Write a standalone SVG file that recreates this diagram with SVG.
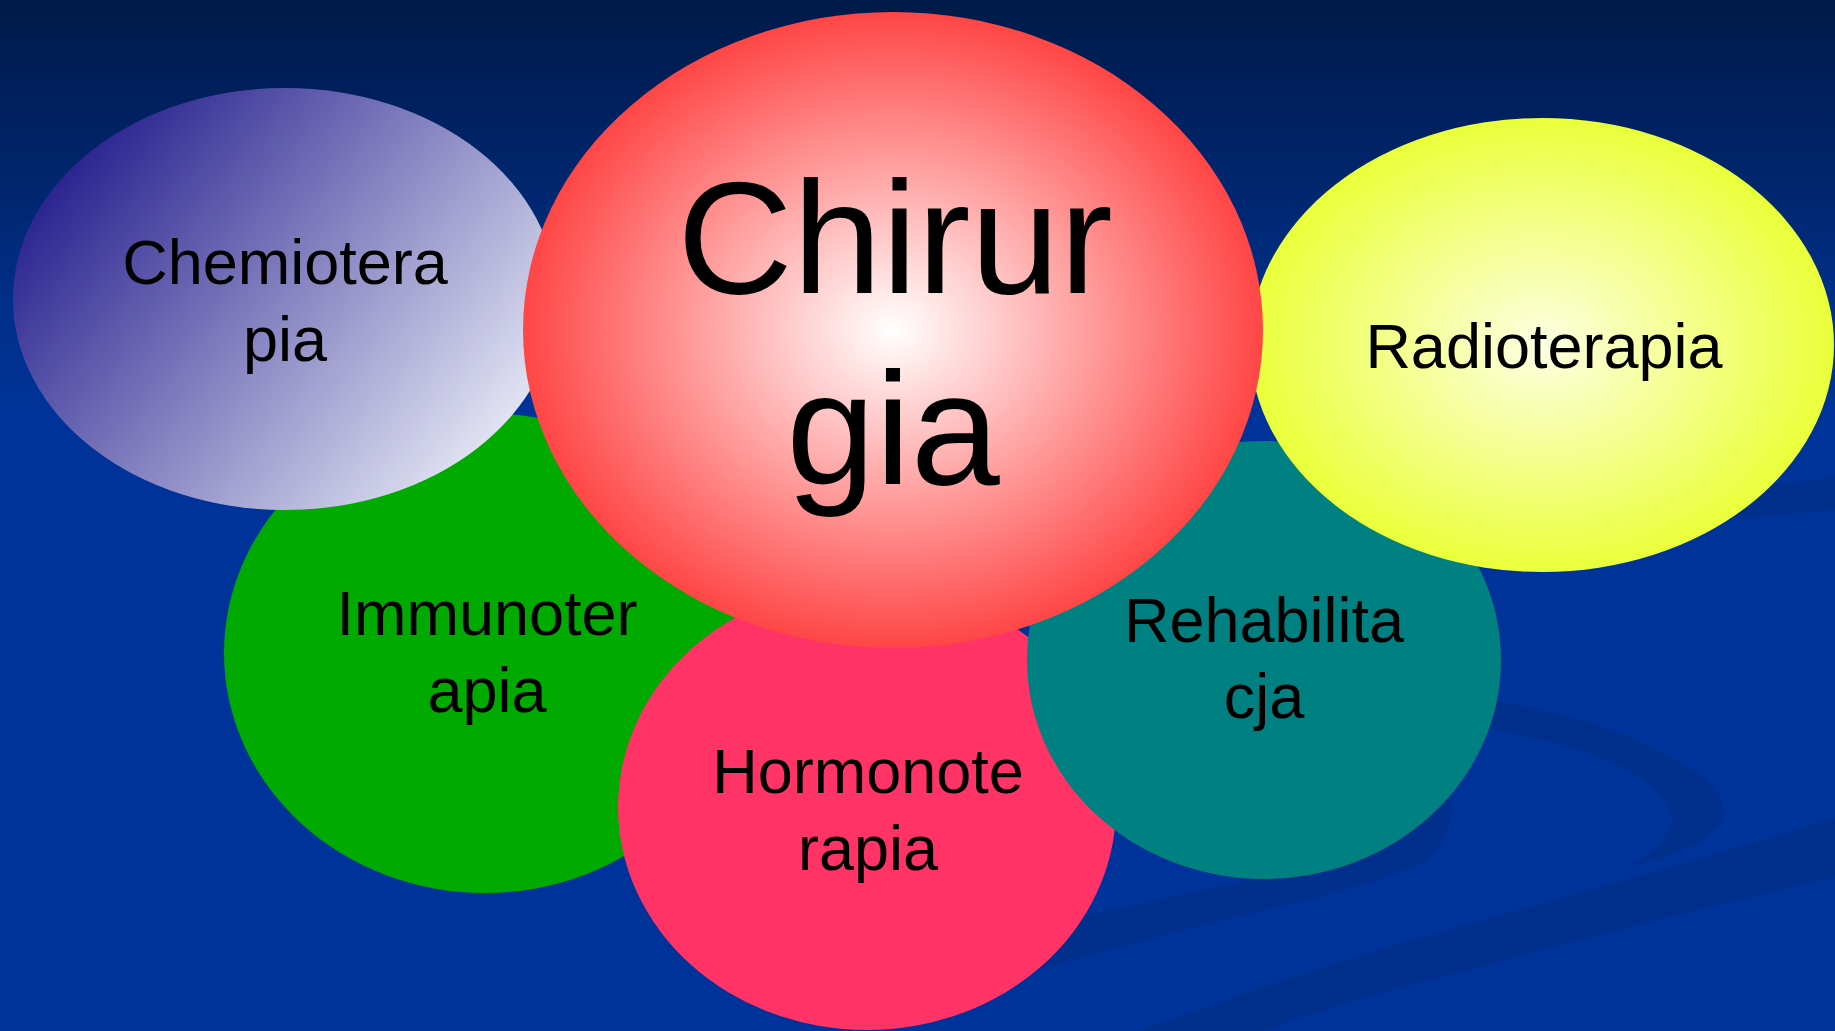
<svg xmlns="http://www.w3.org/2000/svg" width="1835" height="1031" viewBox="0 0 1835 1031">
  <defs>
    <linearGradient id="bg" x1="0" y1="0" x2="0" y2="1031" gradientUnits="userSpaceOnUse">
      <stop offset="0" stop-color="#001a48"/>
      <stop offset="0.1" stop-color="#00205e"/>
      <stop offset="0.2" stop-color="#002872"/>
      <stop offset="0.3" stop-color="#00308a"/>
      <stop offset="0.4" stop-color="#003399"/>
      <stop offset="1" stop-color="#003399"/>
    </linearGradient>
    <linearGradient id="chemioGrad" x1="90" y1="140" x2="480" y2="460" gradientUnits="userSpaceOnUse">
      <stop offset="0" stop-color="#2b2490"/>
      <stop offset="1" stop-color="#e2e4f3"/>
    </linearGradient>
    <radialGradient id="redGrad" cx="0.5" cy="0.5" r="0.5">
      <stop offset="0" stop-color="#ffffff"/>
      <stop offset="1" stop-color="#ff4646"/>
    </radialGradient>
    <radialGradient id="yellowGrad" cx="0.5" cy="0.5" r="0.5">
      <stop offset="0" stop-color="#fdffe2"/>
      <stop offset="1" stop-color="#eaff3a"/>
    </radialGradient>
  </defs>
  <style>
    .lbl { font-family: "Liberation Sans", Arial, sans-serif; fill: #000000; text-anchor: middle; }
    .small { font-size: 63px; }
    .big { font-size: 160px; }
    .swoosh { fill: #00308c; }
  </style>

  <rect x="0" y="0" width="1835" height="1031" fill="url(#bg)"/>

  <g id="background-swooshes">
    <path class="swoosh" d="M1440,695 Q1600,708 1700,775 Q1745,812 1703,840 Q1670,858 1628,867 Q1675,840 1672,815 Q1660,780 1600,757 Q1540,735 1440,722 Z"/>
    <path class="swoosh" d="M990,942 L1087,915 L1240,882 L1300,860 L1420,760 L1452,785 C1456,830 1440,860 1405,870 C1370,884 1340,890 1319,897 L1183,930 L1047,967 L990,985 Z"/>
    <path class="swoosh" d="M1835,818 Q1700,860 1400,943 Q1250,990 1140,1031 L1262,1031 Q1330,1005 1479,967 Q1650,920 1835,877 Z"/>
    <path class="swoosh" d="M1690,497 Q1780,482 1835,478 L1835,510 Q1780,514 1690,525 Z"/>
  </g>

  <g id="node-immunoterapia">
    <ellipse cx="485" cy="653" rx="261" ry="240" fill="#00aa00"/>
    <text class="lbl small" x="487" y="635">Immunoter</text>
    <text class="lbl small" x="487" y="712">apia</text>
  </g>

  <g id="node-hormonoterapia">
    <ellipse cx="867" cy="807" rx="249" ry="223" fill="#ff3366"/>
    <text class="lbl small" x="868" y="793">Hormonote</text>
    <text class="lbl small" x="868" y="870">rapia</text>
  </g>

  <g id="node-rehabilitacja">
    <ellipse cx="1264" cy="660" rx="237" ry="219" fill="#008080"/>
    <text class="lbl small" x="1264" y="642">Rehabilita</text>
    <text class="lbl small" x="1264" y="718">cja</text>
  </g>

  <g id="node-radioterapia">
    <ellipse cx="1542" cy="345" rx="292" ry="227" fill="url(#yellowGrad)"/>
    <text class="lbl small" x="1544" y="368">Radioterapia</text>
  </g>

  <g id="node-chemioterapia">
    <ellipse cx="285" cy="299" rx="272" ry="211" fill="url(#chemioGrad)"/>
    <text class="lbl small" x="285" y="284">Chemiotera</text>
    <text class="lbl small" x="285" y="361">pia</text>
  </g>

  <g id="node-chirurgia">
    <ellipse cx="893" cy="330" rx="370" ry="318" fill="url(#redGrad)"/>
    <text class="lbl big" x="895" y="293">Chirur</text>
    <text class="lbl big" x="893" y="484">gia</text>
  </g>

  <g id="connectors"></g>
</svg>
